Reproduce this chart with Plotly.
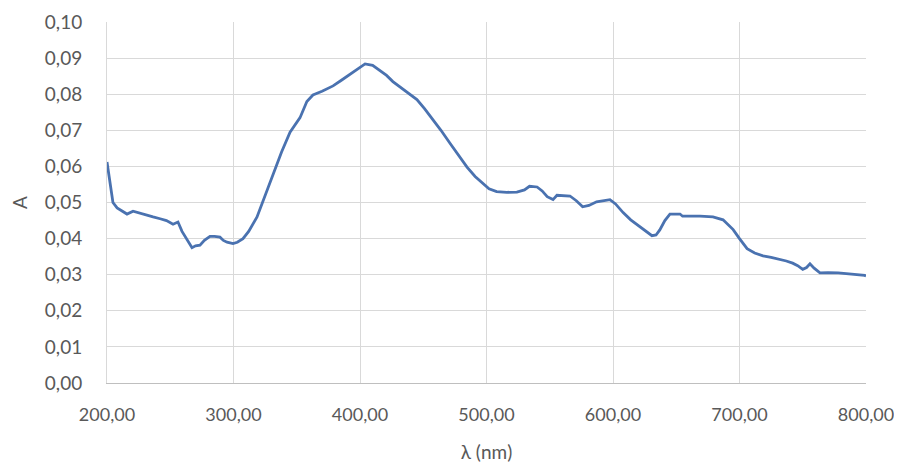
import plotly.graph_objects as go

wavelength_nm = [200.0, 201.5, 203.0, 204.7, 208.0, 212.0, 215.8, 220.6, 226.0, 231.0, 236.4, 242.0, 247.0,
                 252.2, 256.1, 259.3, 263.0, 267.2, 270.0, 273.5, 277.0, 281.4, 285.0, 289.3, 292.0,
                 294.9, 299.6, 303.0, 307.5, 312.0, 318.6, 325.0, 331.2, 338.0, 344.7, 352.6, 358.0,
                 362.8, 370.0, 378.7, 385.0, 392.0, 398.0, 404.0, 410.0, 415.0, 421.0, 426.0, 431.6,
                 438.0, 445.0, 451.0, 457.7, 464.0, 471.0, 478.0, 484.6, 491.0, 497.0, 502.0, 508.0,
                 516.0, 524.0, 530.0, 534.0, 540.0, 544.0, 548.0, 552.6, 555.7, 566.0, 571.0, 576.0,
                 581.0, 587.0, 597.6, 602.0, 608.0, 614.0, 621.0, 626.0, 630.8, 634.0, 637.0, 641.0,
                 645.0, 653.0, 655.0, 668.8, 679.0, 687.0, 695.0, 700.0, 706.0, 712.0, 718.6, 725.0,
                 732.0, 737.0, 742.0, 746.0, 750.0, 753.0, 755.7, 759.0, 763.6, 770.0, 778.0, 785.0,
                 792.0, 799.0, 800.0]
absorbance = [0.0612, 0.0575, 0.0540, 0.0500, 0.0485, 0.0475, 0.0468, 0.0476, 0.0470, 0.0465, 0.0460, 0.0455, 0.0450,
              0.0440, 0.0446, 0.0420, 0.0400, 0.0375, 0.0380, 0.0382, 0.0395, 0.0406, 0.0406, 0.0404, 0.0395,
              0.0390, 0.0386, 0.0390, 0.0400, 0.0420, 0.0460, 0.0520, 0.0580, 0.0640, 0.0695, 0.0735, 0.0780,
              0.0798, 0.0808, 0.0823, 0.0838, 0.0855, 0.0868, 0.0884, 0.0880, 0.0868, 0.0852, 0.0835, 0.0820,
              0.0805, 0.0785, 0.0760, 0.0730, 0.0700, 0.0665, 0.0630, 0.0598, 0.0572, 0.0552, 0.0538, 0.0530,
              0.0528, 0.0529, 0.0535, 0.0545, 0.0543, 0.0532, 0.0516, 0.0508, 0.0520, 0.0518, 0.0505, 0.0488,
              0.0492, 0.0502, 0.0508, 0.0496, 0.0472, 0.0452, 0.0434, 0.0420, 0.0408, 0.0410, 0.0424, 0.0450,
              0.0468, 0.0468, 0.0462, 0.0462, 0.0460, 0.0452, 0.0425, 0.0400, 0.0372, 0.0360, 0.0352, 0.0348,
              0.0343, 0.0338, 0.0332, 0.0325, 0.0315, 0.0320, 0.0330, 0.0318, 0.0305, 0.0306, 0.0305, 0.0303,
              0.0302, 0.0298, 0.0296]

x_ticks = [200, 300, 400, 500, 600, 700, 800]
y_ticks = [0.00, 0.01, 0.02, 0.03, 0.04, 0.05, 0.06, 0.07, 0.08, 0.09, 0.10]

fig = go.Figure()
fig.add_trace(go.Scatter(x=wavelength_nm, y=absorbance, mode="lines",
                         line=dict(color="#4a72b0", width=2.8), showlegend=False))

font_family = "Lato, 'Open Sans', sans-serif"
fig.update_layout(
    width=894, height=459,
    margin=dict(l=99, r=36, t=14, b=84, autoexpand=False),
    paper_bgcolor="white", plot_bgcolor="white",
    separators=",.",
    font=dict(family=font_family, size=19, color="#595959"),
    xaxis=dict(range=[200, 800], tickvals=x_ticks, tickformat=".2f", automargin=False,
               tickfont=dict(size=18),
               showgrid=True, gridcolor="#d9d9d9", gridwidth=1,
               showline=True, linecolor="#bfbfbf", linewidth=1, zeroline=False,
               ticks="", ticklen=0, ticklabelstandoff=15,
               title=dict(text="λ (nm)", font=dict(size=19, color="#595959"), standoff=22)),
    yaxis=dict(range=[0, 0.10], tickvals=y_ticks, tickformat=".2f", automargin=False,
               showgrid=True, gridcolor="#d9d9d9", gridwidth=1,
               showline=True, linecolor="#d9d9d9", linewidth=1, zeroline=False,
               ticks="", ticklen=0, ticklabelstandoff=20,
               title=dict(text="A", font=dict(size=19, color="#595959"), standoff=14)),
)

fig.write_html("out.html")
